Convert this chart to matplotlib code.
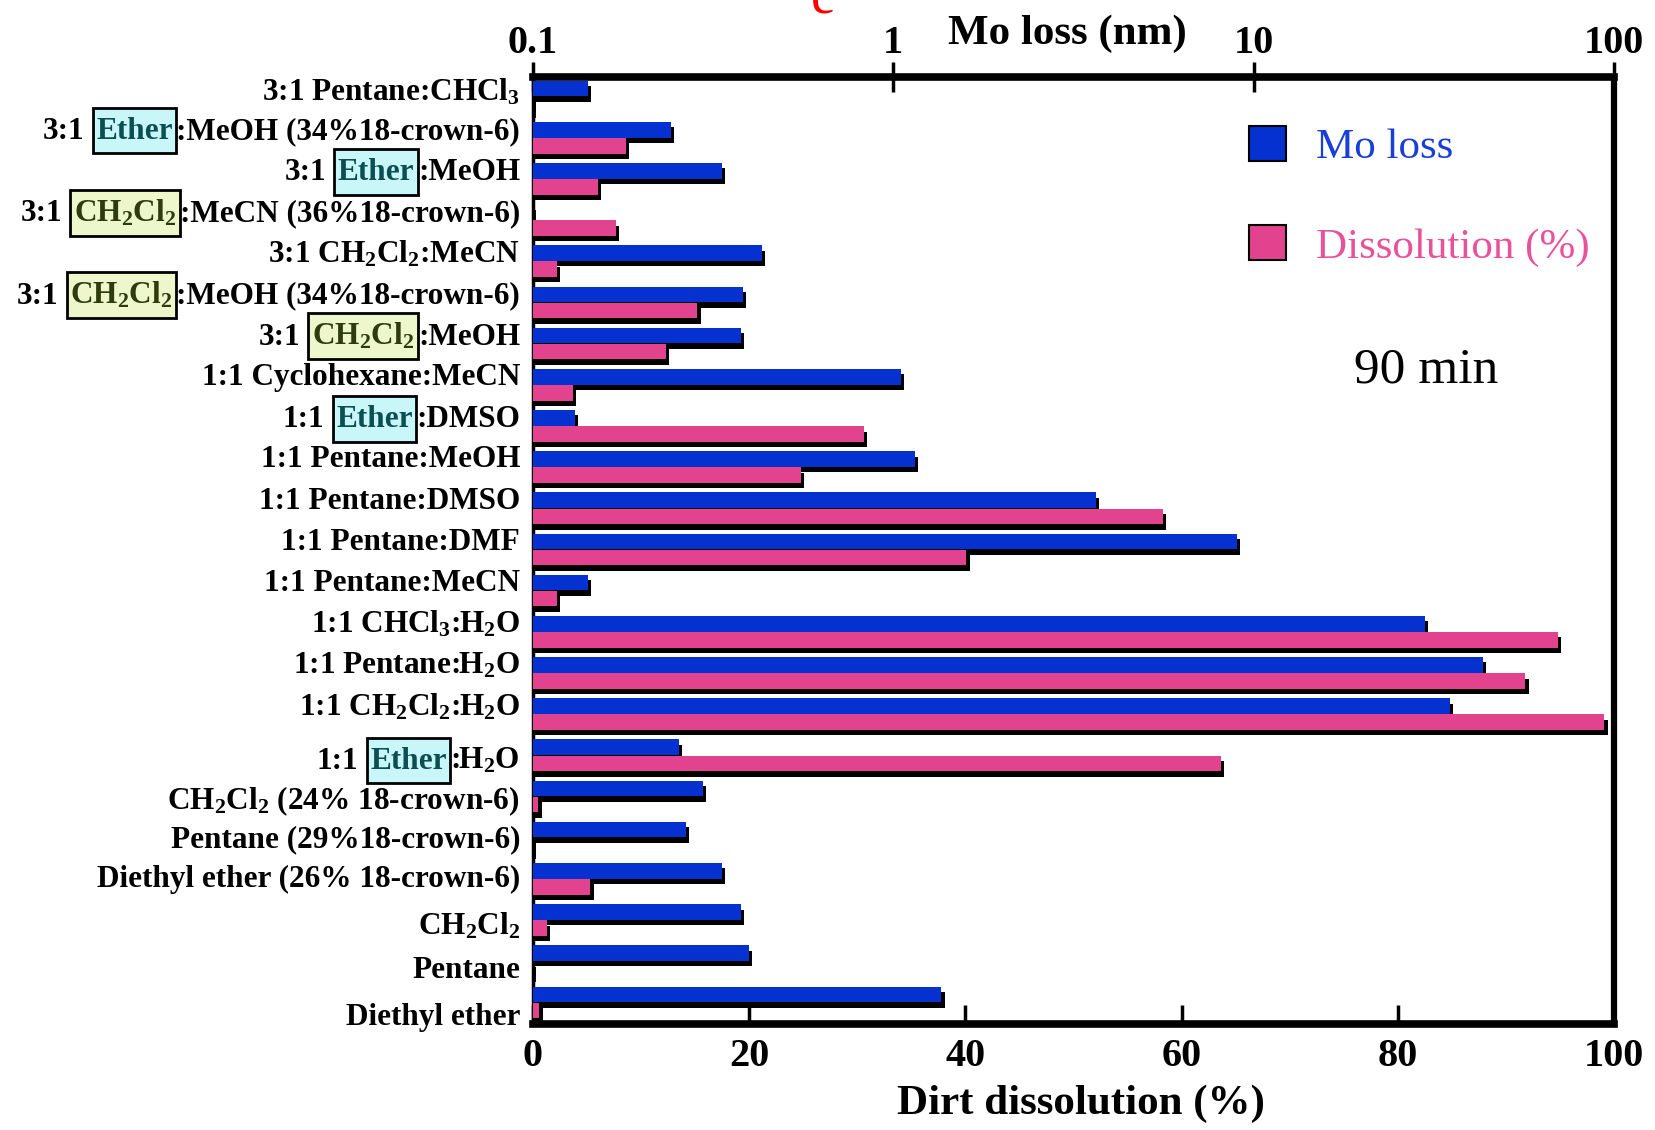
import numpy as np
import matplotlib
matplotlib.use("Agg")
import matplotlib.pyplot as plt
from matplotlib.patches import Patch
from matplotlib.offsetbox import TextArea, HPacker, PaddedBox, DrawingArea, AnnotationBbox

plt.rcParams['font.family'] = ['Liberation Serif', 'DejaVu Serif']
plt.rcParams['mathtext.fontset'] = 'custom'
plt.rcParams['mathtext.rm'] = 'Liberation Serif:bold'
plt.rcParams['mathtext.it'] = 'Liberation Serif:bold'
plt.rcParams['mathtext.bf'] = 'Liberation Serif:bold'

CH2CL2 = r'CH$_2$Cl$_2$'
# each label: (prefix, highlighted word, highlight kind, suffix)
labels = [
    ('3:1 Pentane:CHCl$_3$', None, None, ''),
    ('3:1', 'Ether', 'ether', ':MeOH (34%18-crown-6)'),
    ('3:1', 'Ether', 'ether', ':MeOH'),
    ('3:1', CH2CL2, 'ch2', ':MeCN (36%18-crown-6)'),
    ('3:1 ' + CH2CL2 + ':MeCN', None, None, ''),
    ('3:1', CH2CL2, 'ch2', ':MeOH (34%18-crown-6)'),
    ('3:1', CH2CL2, 'ch2', ':MeOH'),
    ('1:1 Cyclohexane:MeCN', None, None, ''),
    ('1:1', 'Ether', 'ether', ':DMSO'),
    ('1:1 Pentane:MeOH', None, None, ''),
    ('1:1 Pentane:DMSO', None, None, ''),
    ('1:1 Pentane:DMF', None, None, ''),
    ('1:1 Pentane:MeCN', None, None, ''),
    ('1:1 CHCl$_3$:H$_2$O', None, None, ''),
    ('1:1 Pentane:H$_2$O', None, None, ''),
    ('1:1 ' + CH2CL2 + ':H$_2$O', None, None, ''),
    ('1:1', 'Ether', 'ether', ':H$_2$O'),
    (CH2CL2 + ' (24% 18-crown-6)', None, None, ''),
    ('Pentane (29%18-crown-6)', None, None, ''),
    ('Diethyl ether (26% 18-crown-6)', None, None, ''),
    (CH2CL2, None, None, ''),
    ('Pentane', None, None, ''),
    ('Diethyl ether', None, None, ''),
]

# Mo loss in nm (log axis), nan = no bar
mo_loss = [0.142, 0.242, 0.335, np.nan, 0.433, 0.383, 0.378, 1.05, 0.131, 1.15,
           3.66, 8.98, 0.142, 29.9, 43.3, 35.1, 0.254, 0.297, 0.266, 0.335,
           0.378, 0.397, 1.36]
# dirt dissolution in %
dissolution = [0.0, 8.6, 6.0, 7.7, 2.2, 15.2, 12.3, 3.7, 30.6, 24.8,
               58.3, 40.1, 2.2, 94.8, 91.8, 99.1, 63.6, 0.5, 0.0, 5.3,
               1.3, 0.0, 0.6]

# small vertical nudges of the row labels (in row units)
label_nudge = [0.08, 0, 0, 0, 0, 0, 0, 0, 0, 0, 0, 0, 0, 0, 0, 0,
               0.3, 0.28, 0.23, 0.18, 0.33, 0.4, 0.55]

blue = '#0431cf'
pink = '#e3428f'
hl = {'ether': ('#c9f6f9', '#0b4f52'), 'ch2': ('#eef6cc', '#2e3b0c')}

fig = plt.figure(figsize=(16.56, 11.30), dpi=100)
ax = fig.add_axes([533/1656, 1 - 1024/1130, 1081/1656, 947/1130])
ax2 = ax.twiny()

y = np.arange(len(labels))
h = 0.38
dy = 0.13

# Mo loss on log axis (main axes, ticks on top)
mo = np.array(mo_loss)
ok = ~np.isnan(mo)
mo_f = np.where(ok, mo, 0.1)
ax.set_xscale('log')
ax.set_xlim(0.1, 100)
ax.barh(y - 0.22 + dy, mo_f * 1.02 - 0.1, left=0.1, height=h, color='black', zorder=2)
ax.barh(y[ok] - 0.22, mo[ok] - 0.1, left=0.1, height=h, color=blue, zorder=3)

# dissolution on linear axis (twin, ticks on bottom)
dis = np.array(dissolution)
ax2.set_xlim(0, 100)
ax2.barh(y + 0.17 + dy, dis + 0.3, height=h, color='black', zorder=2)
ax2.barh(y + 0.17, dis, height=h, color=pink, zorder=3)

ax.set_ylim(len(labels) - 0.5, -0.5)
ax2.set_ylim(len(labels) - 0.5, -0.5)
ax.set_yticks([])
ax2.set_yticks([])

ax.xaxis.tick_top()
ax2.xaxis.tick_bottom()
ax.xaxis.set_major_locator(matplotlib.ticker.FixedLocator([0.1, 1, 10, 100]))
ax.xaxis.set_minor_locator(matplotlib.ticker.NullLocator())
ax.set_xticklabels(['0.1', '1', '10', '100'])
ax2.set_xticks([0, 20, 40, 60, 80, 100])
ax.tick_params(axis='x', which='major', direction='inout', length=22, width=2.5,
               labelsize=29, pad=0, top=True, bottom=False)
ax2.tick_params(axis='x', direction='in', length=14, width=2.5, labelsize=29,
                pad=10, top=False, bottom=True)
for t in ax.get_xticklabels() + ax2.get_xticklabels():
    t.set_fontweight('bold')

for s in ax2.spines.values():
    s.set_visible(False)
for name, lw in [('top', 5.5), ('bottom', 5.5), ('right', 4.5), ('left', 2.5)]:
    ax.spines[name].set_linewidth(lw)
    ax.spines[name].set_color('black')

ax.text(0.494, 1.025, 'Mo loss (nm)', transform=ax.transAxes, ha='center', va='bottom',
        fontsize=31, fontweight='bold')
fig.text(1081/1656, 1 - 1104/1130, 'Dirt dissolution (%)', ha='center', va='center',
         fontsize=31, fontweight='bold')

# category labels, some with highlighted boxes
tp = dict(fontsize=22.5, fontweight='bold', color='black')
for i, (pre, word, kind, suf) in enumerate(labels):
    kids = [TextArea(pre, textprops=tp)]
    if word is not None:
        fc, tc = hl[kind]
        inner = HPacker(children=[TextArea(word, textprops=dict(tp, color=tc)),
                                  DrawingArea(0.1, 28, 0, 8)],
                        align='baseline', pad=0, sep=0)
        box = PaddedBox(inner, pad=2.5, draw_frame=True,
                        patch_attrs=dict(facecolor=fc, edgecolor='black', linewidth=2))
        kids += [DrawingArea(6, 1), box, TextArea(suf, textprops=tp)]
    pack = HPacker(children=kids, align='baseline', pad=0, sep=0)
    yl = i - 0.2 + label_nudge[i]
    ab = AnnotationBbox(pack, (-0.012, yl), xycoords=ax.get_yaxis_transform(),
                        box_alignment=(1, 0.5), frameon=False, pad=0,
                        annotation_clip=False)
    ax.add_artist(ab)

handles = [Patch(facecolor=blue, edgecolor='black', linewidth=1.5),
           Patch(facecolor=pink, edgecolor='black', linewidth=1.5)]
leg = ax2.legend(handles, ['Mo loss', 'Dissolution (%)'], loc='upper left',
                 bbox_to_anchor=(1249/1656, 1 - 126/1130), bbox_transform=fig.transFigure,
                 frameon=False, fontsize=31, handlelength=0.86, handleheight=0.86,
                 handletextpad=0.7, labelspacing=1.35, borderpad=0, borderaxespad=0,
                 labelcolor=['#1a3fd8', '#e8529a'])

ax2.text(1426/1656, 1 - 370/1130, '90 min', transform=fig.transFigure, ha='center',
         va='center', fontsize=37, color='black')

# red fragment at top edge (cut-off glyph)
fig.text(0.497, 1.0, 'e', color='red', fontsize=40, ha='center', va='center')

fig.savefig('out.png', dpi=100)
